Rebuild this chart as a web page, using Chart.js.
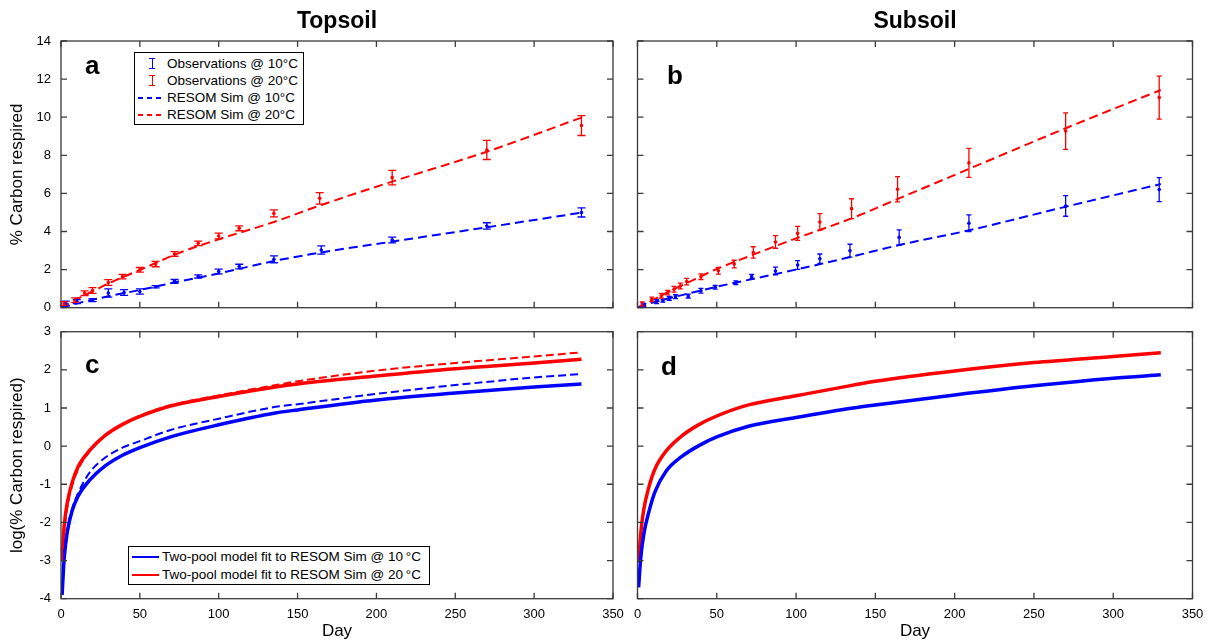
<!DOCTYPE html>
<html lang="en">
<head>
<meta charset="utf-8">
<title>Topsoil / Subsoil - RESOM</title>
<script src="https://cdn.jsdelivr.net/npm/chart.js@4.4.1/dist/chart.umd.min.js"></script>
<style>
    body { margin: 0; background: #fff; }
    #figura { position: relative; width: 1213px; height: 642px; overflow: hidden;
              font-family: "Liberation Sans", Arial, sans-serif; color: #000; }
    .painel { position: absolute; }
    .titulo { position: absolute; top: 9px; font-weight: bold; font-size: 23px; line-height: 1;
              transform: translateX(-50%); white-space: nowrap; }
    .letra { position: absolute; font-weight: bold; font-size: 26px; line-height: 1; }
    .legenda { position: absolute; box-sizing: border-box; border: 1px solid #000; background: #fff;
               font-size: 13.5px; }
    .item { position: relative; white-space: nowrap; }
    .item span.txt { color: #000; }
    .barra { position: absolute; width: 6px; height: 11px; }
    .barra i { position: absolute; display: block; }
    .tracejado { position: absolute; height: 2px; }
    .linha { position: absolute; height: 2px; }
</style>
</head>
<body>
<div id="figura">
    <div class="painel" style="left:0;top:0;width:632px;height:315px"><canvas id="graficoA"></canvas></div>
    <div class="painel" style="left:620px;top:0;width:593px;height:315px"><canvas id="graficoB"></canvas></div>
    <div class="painel" style="left:0;top:315px;width:632px;height:327px"><canvas id="graficoC"></canvas></div>
    <div class="painel" style="left:620px;top:315px;width:593px;height:327px"><canvas id="graficoD"></canvas></div>

    <div class="titulo" style="left:337px">Topsoil</div>
    <div class="titulo" style="left:915px">Subsoil</div>

    <div class="letra" style="left:85px;top:52px">a</div>
    <div class="letra" style="left:667px;top:62px">b</div>
    <div class="letra" style="left:85px;top:351px">c</div>
    <div class="letra" style="left:661px;top:353px">d</div>

    <!-- legenda do painel a -->
    <div class="legenda" id="legendaA" style="left:134px;top:52px;width:170px;height:73px;padding-top:2px"></div>
    <!-- legenda do painel c -->
    <div class="legenda" id="legendaC" style="left:128px;top:546px;width:302px;height:39px;padding-top:1px"></div>
</div>

<script>
// ---- dados ----
const ticksDia = [0, 50, 100, 150, 200, 250, 300, 350];
const ticksPct = [0, 2, 4, 6, 8, 10, 12, 14];
const ticksLog = [-4, -3, -2, -1, 0, 1, 2, 3];

// Topsoil (painel a)
const diasObs10Topo = [3, 10, 20, 30, 40, 50, 60, 72, 87, 100, 113, 135, 165, 210, 270, 330];
const obs10Topo     = [0.22, 0.32, 0.4, 0.77, 0.8, 0.85, 1.1, 1.38, 1.64, 1.9, 2.16, 2.54, 3.03, 3.55, 4.29, 5.0];
const err10Topo     = [0.12, 0.1, 0.08, 0.22, 0.15, 0.14, 0.06, 0.1, 0.08, 0.12, 0.12, 0.18, 0.22, 0.15, 0.17, 0.24];

const diasObs20Topo = [2, 9, 15, 20, 30, 39, 50, 60, 72, 87, 100, 113, 135, 164, 210, 270, 330];
const obs20Topo     = [0.22, 0.4, 0.76, 0.9, 1.32, 1.63, 1.99, 2.29, 2.82, 3.38, 3.76, 4.17, 4.95, 5.74, 6.83, 8.28, 9.56];
const err20Topo     = [0.1, 0.12, 0.12, 0.15, 0.15, 0.12, 0.12, 0.14, 0.12, 0.12, 0.15, 0.13, 0.18, 0.3, 0.38, 0.5, 0.52];

const diasSim   = [0, 10, 20, 30, 50, 75, 100, 135, 165, 210, 270, 330];
const sim10Topo = [0, 0.22, 0.42, 0.6, 0.93, 1.38, 1.8, 2.45, 2.9, 3.47, 4.22, 4.99];
const sim20Topo = [0, 0.45, 0.85, 1.27, 1.98, 2.88, 3.59, 4.5, 5.39, 6.62, 8.19, 9.98];

// Subsoil (painel b)
const diasObs10Sub = [4, 12, 16, 20, 24, 32, 40, 49, 62, 72, 87, 101, 115, 134, 165, 209, 270, 329];
const obs10Sub     = [0.14, 0.32, 0.37, 0.49, 0.58, 0.61, 0.89, 1.07, 1.31, 1.63, 1.93, 2.24, 2.57, 2.99, 3.69, 4.43, 5.34, 6.2];
const err10Sub     = [0.08, 0.1, 0.08, 0.1, 0.1, 0.1, 0.12, 0.1, 0.1, 0.12, 0.2, 0.23, 0.25, 0.34, 0.4, 0.44, 0.54, 0.63];

const diasObs20Sub = [3, 9, 15, 19, 23, 27, 31, 40, 51, 61, 73, 87, 101, 115, 135, 164, 209, 270, 329];
const obs20Sub     = [0.2, 0.44, 0.63, 0.79, 0.97, 1.14, 1.37, 1.63, 1.94, 2.29, 2.9, 3.45, 3.9, 4.5, 5.2, 6.22, 7.6, 9.27, 11.03];
const err20Sub     = [0.1, 0.12, 0.12, 0.12, 0.15, 0.15, 0.17, 0.15, 0.18, 0.2, 0.3, 0.33, 0.37, 0.44, 0.52, 0.66, 0.76, 0.96, 1.13];

const sim10Sub = [0, 0.28, 0.5, 0.7, 1.1, 1.55, 2.0, 2.68, 3.29, 4.08, 5.3, 6.49];
const sim20Sub = [0, 0.42, 0.85, 1.25, 2.03, 2.85, 3.64, 4.69, 5.74, 7.32, 9.42, 11.43];

// log(% Carbon respired) (paineis c e d)
const diasLog       = [0.7, 2, 4, 7, 11, 18, 28, 39, 50, 70, 100, 136, 150, 200, 250, 300, 330];
const fit10Topo     = [-3.9, -2.95, -2.25, -1.7, -1.3, -0.9, -0.52, -0.24, -0.04, 0.25, 0.56, 0.87, 0.95, 1.21, 1.39, 1.55, 1.63];
const fit20Topo     = [-3.0, -2.1, -1.48, -0.96, -0.53, -0.12, 0.28, 0.57, 0.78, 1.06, 1.3, 1.55, 1.63, 1.84, 2.03, 2.18, 2.28];
const logSim10Topo  = [-3.9, -2.9, -2.2, -1.65, -1.22, -0.7, -0.3, -0.04, 0.13, 0.43, 0.72, 1.03, 1.1, 1.37, 1.6, 1.8, 1.89];
const logSim20Topo  = [-3.0, -2.3, -1.6, -1.05, -0.6, -0.15, 0.27, 0.57, 0.8, 1.08, 1.33, 1.6, 1.7, 1.98, 2.18, 2.35, 2.46];
const fit10Sub      = [-3.7, -2.95, -2.3, -1.75, -1.2, -0.66, -0.27, 0.02, 0.24, 0.52, 0.75, 1.0, 1.08, 1.34, 1.58, 1.78, 1.87];
const fit20Sub      = [-3.05, -2.3, -1.65, -1.1, -0.6, -0.13, 0.27, 0.57, 0.79, 1.08, 1.32, 1.6, 1.7, 1.97, 2.19, 2.35, 2.45];

const AZUL = '#0000ff';
const VERMELHO = '#ff0000';

Chart.defaults.font.family = '"Liberation Sans", Arial, sans-serif';
Chart.defaults.color = '#000';

const pontos = (dias, vals) => dias.map((d, i) => ({ x: d, y: vals[i] }));

// ---- legendas em html ----
function iconeBarra(cor) {
    return `<span class="barra" style="left:14px;top:3px">
        <i style="left:0;top:0;width:6px;height:1px;background:${cor}"></i>
        <i style="left:2.5px;top:0;width:1px;height:11px;background:${cor}"></i>
        <i style="left:0;top:10px;width:6px;height:1px;background:${cor}"></i></span>`;
}
function iconeTracejado(cor) {
    return `<span class="tracejado" style="left:3px;top:8px;width:23px;
        background:repeating-linear-gradient(to right, ${cor} 0 5px, transparent 5px 9px)"></span>`;
}
function iconeLinha(cor) {
    return `<span class="linha" style="left:3px;top:8px;width:27px;background:${cor}"></span>`;
}
function itemLegenda(icone, texto, altura, recuo) {
    return `<div class="item" style="height:${altura}px;line-height:${altura}px;padding-left:${recuo}px">` +
           `${icone}<span class="txt">${texto}</span></div>`;
}

document.getElementById('legendaA').innerHTML =
    itemLegenda(iconeBarra(AZUL), 'Observations @ 10°C', 17, 32) +
    itemLegenda(iconeBarra(VERMELHO), 'Observations @ 20°C', 17, 32) +
    itemLegenda(iconeTracejado(AZUL), 'RESOM Sim @ 10°C', 17, 32) +
    itemLegenda(iconeTracejado(VERMELHO), 'RESOM Sim @ 20°C', 17, 32);

document.getElementById('legendaC').innerHTML =
    itemLegenda(iconeLinha(AZUL), 'Two-pool model fit to RESOM Sim @ 10&#8201;°C', 18, 33) +
    itemLegenda(iconeLinha(VERMELHO), 'Two-pool model fit to RESOM Sim @ 20&#8201;°C', 18, 33);

// moldura com ticks para dentro (estilo matlab)
const pluginMoldura = {
    id: 'moldura',
    afterDatasetsDraw(chart) {
        const { ctx, chartArea: a, scales: { x, y } } = chart;
        ctx.save();
        ctx.strokeStyle = '#3a3a3a';
        ctx.lineWidth = 1.3;
        ctx.strokeRect(a.left, a.top, a.right - a.left, a.bottom - a.top);
        ctx.beginPath();
        x.ticks.forEach(t => {
            const px = x.getPixelForValue(t.value);
            ctx.moveTo(px, a.bottom); ctx.lineTo(px, a.bottom - 6);
            ctx.moveTo(px, a.top);    ctx.lineTo(px, a.top + 6);
        });
        y.ticks.forEach(t => {
            const py = y.getPixelForValue(t.value);
            ctx.moveTo(a.left, py);  ctx.lineTo(a.left + 6, py);
            ctx.moveTo(a.right, py); ctx.lineTo(a.right - 6, py);
        });
        ctx.stroke();
        ctx.restore();
    }
};

// barras de erro das observacoes
const pluginErros = {
    id: 'erros',
    afterDatasetsDraw(chart) {
        const { ctx, scales: { x, y } } = chart;
        chart.data.datasets.forEach(ds => {
            if (!ds.erros) return;
            ctx.save();
            ctx.strokeStyle = ds.borderColor;
            ctx.lineWidth = 1.3;
            ctx.beginPath();
            ds.data.forEach((p, i) => {
                const px = x.getPixelForValue(p.x);
                const yTopo = y.getPixelForValue(p.y + ds.erros[i]);
                const yBase = y.getPixelForValue(p.y - ds.erros[i]);
                const c = ds.capa;
                ctx.moveTo(px, yTopo); ctx.lineTo(px, yBase);
                ctx.moveTo(px - c, yTopo); ctx.lineTo(px + c, yTopo);
                ctx.moveTo(px - c, yBase); ctx.lineTo(px + c, yBase);
            });
            ctx.stroke();
            ctx.restore();
        });
    }
};

function observacoes(dias, vals, erros, cor, capa) {
    return {
        data: pontos(dias, vals), erros: erros, capa: capa,
        borderColor: cor, backgroundColor: cor,
        showLine: false, pointRadius: 1.8, pointBorderWidth: 0, order: 1
    };
}

function curva(dias, vals, cor, tracejada, largura, ordem) {
    return {
        data: pontos(dias, vals),
        borderColor: cor, borderWidth: largura,
        borderDash: tracejada ? tracejada : [],
        pointRadius: 0, fill: false,
        cubicInterpolationMode: 'monotone',
        order: ordem
    };
}

function criarPainel(id, cfg) {
    return new Chart(document.getElementById(id), {
        type: 'line',
        data: { datasets: cfg.datasets },
        options: {
            responsive: true,
            maintainAspectRatio: false,
            animation: false,
            layout: { padding: cfg.padding },
            plugins: { legend: { display: false }, tooltip: { enabled: false } },
            scales: {
                x: {
                    type: 'linear', min: 0, max: 350,
                    grid: { display: false, drawTicks: false }, border: { display: false },
                    afterBuildTicks: s => { s.ticks = ticksDia.map(v => ({ value: v })); },
                    ticks: { display: cfg.xLabels, autoSkip: false, maxRotation: 0, padding: 8,
                             font: { size: 13 } },
                    title: { display: cfg.xLabels, text: 'Day', font: { size: 17 },
                             padding: { top: 0, bottom: 0 } },
                    afterFit: s => { s.height = cfg.alturaX; s.paddingLeft = 0; s.paddingRight = 0; }
                },
                y: {
                    min: cfg.yMin, max: cfg.yMax,
                    grid: { display: false, drawTicks: false }, border: { display: false },
                    afterBuildTicks: s => { s.ticks = cfg.yTicks.map(v => ({ value: v })); },
                    ticks: { display: !!cfg.yTitulo, padding: 10, font: { size: 13 } },
                    title: { display: !!cfg.yTitulo, text: cfg.yTitulo, font: { size: 17 },
                             padding: { top: 7, bottom: 0 } },
                    afterFit: s => { s.width = cfg.larguraY; s.paddingTop = 0; s.paddingBottom = 0; }
                }
            }
        },
        plugins: [pluginMoldura, pluginErros]
    });
}

criarPainel('graficoA', {
    padding: { top: 41, right: 19, left: 0, bottom: 0 },
    alturaX: 7.3, larguraY: 61, xLabels: false,
    yMin: 0, yMax: 14, yTicks: ticksPct, yTitulo: '% Carbon respired',
    datasets: [
        observacoes(diasObs10Topo, obs10Topo, err10Topo, AZUL, 4),
        observacoes(diasObs20Topo, obs20Topo, err20Topo, VERMELHO, 4),
        curva(diasSim, sim10Topo, AZUL, [9, 5], 2, 2),
        curva(diasSim, sim20Topo, VERMELHO, [9, 5], 2, 2)
    ]
});

criarPainel('graficoB', {
    padding: { top: 41, right: 20.5, left: 0, bottom: 0 },
    alturaX: 7.3, larguraY: 17.5, xLabels: false,
    yMin: 0, yMax: 14, yTicks: ticksPct, yTitulo: '',
    datasets: [
        observacoes(diasObs10Sub, obs10Sub, err10Sub, AZUL, 2.5),
        observacoes(diasObs20Sub, obs20Sub, err20Sub, VERMELHO, 2.5),
        curva(diasSim, sim10Sub, AZUL, [9, 5], 2, 2),
        curva(diasSim, sim20Sub, VERMELHO, [9, 5], 2, 2)
    ]
});

criarPainel('graficoC', {
    padding: { top: 16.7, right: 19, left: 0, bottom: 0 },
    alturaX: 43.3, larguraY: 61, xLabels: true,
    yMin: -4, yMax: 3, yTicks: ticksLog, yTitulo: 'log(% Carbon respired)',
    datasets: [
        curva(diasLog, logSim10Topo, AZUL, [8, 4], 2, 1),
        curva(diasLog, logSim20Topo, VERMELHO, [8, 4], 2, 1),
        curva(diasLog, fit10Topo, AZUL, null, 3.5, 2),
        curva(diasLog, fit20Topo, VERMELHO, null, 3.5, 2)
    ]
});

criarPainel('graficoD', {
    padding: { top: 16.7, right: 20.5, left: 0, bottom: 0 },
    alturaX: 43.3, larguraY: 17.5, xLabels: true,
    yMin: -4, yMax: 3, yTicks: ticksLog, yTitulo: '',
    datasets: [
        curva(diasLog, fit10Sub, AZUL, null, 3.5, 2),
        curva(diasLog, fit20Sub, VERMELHO, null, 3.5, 2)
    ]
});
</script>
</body>
</html>
